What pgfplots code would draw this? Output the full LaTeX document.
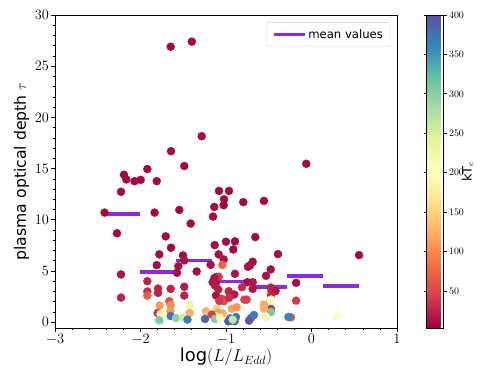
\documentclass[border=0pt]{standalone}
\usepackage{fontspec}
\setmainfont{DejaVu Sans}
\usepackage{pgfplots}
\usepackage{pgfplotstable}
\pgfplotsset{compat=1.18}
\definecolor{meanViolet}{RGB}{138,43,226}
\pgfplotsset{
  colormap={spectral}{rgb255=(158,1,66) rgb255=(213,62,79) rgb255=(244,109,67)
    rgb255=(253,174,97) rgb255=(254,224,139) rgb255=(255,255,191) rgb255=(230,245,152)
    rgb255=(171,221,164) rgb255=(102,194,165) rgb255=(50,136,189) rgb255=(94,79,162)}
}

% log(L/LEdd), tau, kTe
\pgfplotstableread{
x y c
-1.647 26.9 8
-1.40 27.4 8
-1.284 18.16 8
-1.643 16.7 8
-1.488 15.25 8
-1.92 14.95 8
-2.193 14.4 8
-2.166 13.94 8
-2.07 13.77 8
-1.998 13.9 8
-1.81 13.77 8
-2.228 12.73 8
-0.061 15.47 8
-1.082 12.82 8
-0.965 12.82 8
-1.023 12.0 8
-1.027 11.42 8
-1.137 11.25 8
-0.798 11.72 8
-0.556 11.84 8
-2.42 10.7 8
-1.835 10.7 8
-1.546 10.96 8
-1.152 10.31 8
-1.413 9.63 8
-2.275 8.68 8
-1.705 8.38 8
-1.0 7.86 8
-0.895 7.89 8
-0.657 8.31 8
-1.643 7.27 8
-1.132 7.53 8
-0.915 7.1 8
-1.78 6.62 10
-1.503 6.52 10
-1.488 6.03 12
-1.81 5.57 10
-1.558 5.47 12
-2.228 4.66 15
-1.573 4.82 10
-1.343 4.95 10
-1.92 4.0 25
-1.92 2.99 30
-1.92 2.6 70
-1.795 3.28 25
-1.795 2.86 25
-1.647 3.25 25
-1.488 3.45 20
-1.488 2.6 25
-2.228 2.4 25
-1.663 2.04 55
-1.776 1.62 110
-1.647 1.69 100
-1.425 1.69 230
-1.8 0.9 40
-1.764 0.8 200
-1.74 0.85 190
-1.65 1.1 110
-1.425 0.9 120
-1.647 0.6 375
-1.78 0.18 310
-1.585 0.4 300
-1.503 0.44 255
-1.45 0.25 370
-0.392 6.65 10
-1.086 6.62 10
-1.027 6.13 15
-1.043 5.6 75
-1.18 5.6 12
-0.688 5.9 10
-0.719 5.54 10
-0.743 5.41 12
-0.477 5.15 10
-0.532 4.53 12
-0.895 4.72 15
-1.11 4.43 40
-1.086 4.43 40
-1.156 3.9 15
-1.137 4.3 15
-1.117 3.84 15
-0.751 3.9 10
-0.688 3.9 15
-0.813 3.41 30
-0.688 3.25 15
-0.477 3.38 25
-0.466 2.99 25
-0.42 3.05 15
-0.18 3.84 10
-1.129 3.58 20
-1.09 3.19 20
-0.968 3.02 25
-0.953 2.6 25
-0.903 2.7 20
-1.117 2.6 15
-1.047 2.27 45
-1.023 2.04 55
-1.078 2.07 40
-0.965 2.37 35
-0.786 2.2 55
-0.758 2.2 45
-0.474 2.6 30
-0.474 2.2 200
-0.474 1.29 30
-0.474 1.0 310
-0.18 2.1 40
-0.24 0.47 60
-0.27 0.5 360
0.298 0.51 205
0.556 6.55 8
-1.234 1.06 120
-1.207 0.8 140
-1.11 1.32 150
-1.097 0.9 110
-1.117 0.57 195
-1.058 0.51 205
-1.167 0.74 45
-1.246 0.31 385
-1.129 0.31 305
-1.04 0.85 120
-0.953 0.37 370
-0.933 0.15 395
-0.973 0.08 390
-0.9 0.1 385
-0.883 0.51 370
-0.922 0.25 265
-0.933 1.32 115
-0.875 1.45 105
-0.708 0.41 375
-0.731 0.15 395
-0.673 0.7 370
-0.556 1.72 120
-0.556 1.32 120
-0.53 0.51 185
-1.07 0.41 210
}\pts

\begin{document}
\begin{tikzpicture}
\path[use as bounding box] (-55bp,-52bp) rectangle (426bp,328bp);
\begin{axis}[
  at={(0,0)}, anchor=south west,
  scale only axis,
  width=342bp, height=313bp,
  xmin=-3, xmax=1, ymin=-0.57, ymax=30,
  xtick={-3,-2,...,1}, ytick={0,5,...,30},
  minor x tick num=4, minor y tick num=4,
  tick align=outside, tick pos=left,
  major tick length=3.5bp, minor tick length=2bp,
  axis line style={line width=0.8bp},
  tick style={line width=0.8bp, black},
  minor tick style={line width=0.6bp},
  tick label style={font=\fontsize{15.5}{17}\selectfont},
  xticklabel style={yshift=1bp},
  yticklabel style={xshift=1bp},
  xlabel={log$(L/L_{Edd})$},
  ylabel={plasma optical depth $\tau$},
  xlabel style={font=\fontsize{18}{20}\selectfont, yshift=3bp},
  ylabel style={font=\fontsize{15.75}{18}\selectfont, yshift=-1bp},
  colormap name=spectral,
  point meta min=3, point meta max=400,
  colorbar,
  colorbar style={
    at={(parent axis.north east)}, anchor=north west, xshift=21bp,
    width=17bp,
    ytick={50,100,...,400},
    yticklabel style={font=\fontsize{10}{12}\selectfont, xshift=-1bp},
    ylabel={kT$_e$},
    ylabel style={font=\fontsize{13}{15}\selectfont},
    ylabel shift=-9bp,
    major tick length=3bp, tick align=outside,
    axis line style={line width=0.8bp},
  },
  legend style={at={(0.98,0.977)}, anchor=north east, rounded corners=2bp,
    draw=black!18, font=\fontsize{11.7}{14}\selectfont,
    inner xsep=5bp, inner ysep=5bp},
  legend cell align=left,
  legend image code/.code={\draw[#1] (0bp,0bp) -- (31bp,0bp);},
]
\addplot[scatter, only marks, mark=*, mark size=4bp, scatter src=explicit,
  scatter/use mapped color={draw=mapped color, fill=mapped color}, forget plot]
  table[x=x, y=y, meta=c] {\pts};
\addplot[meanViolet, line width=3.5bp, unbounded coords=jump] coordinates {
  (-2.42,10.54) (-2.0,10.54) (nan,nan)
  (-2.0,4.92) (-1.58,4.92) (nan,nan)
  (-1.58,6.03) (-1.16,6.03) (nan,nan)
  (-1.08,3.95) (-0.66,3.95) (nan,nan)
  (-0.66,3.45) (-0.29,3.45) (nan,nan)
  (-0.29,4.49) (0.13,4.49) (nan,nan)
  (0.13,3.55) (0.556,3.55)
};
\addlegendentry{mean values}
\end{axis}
\end{tikzpicture}
\end{document}
